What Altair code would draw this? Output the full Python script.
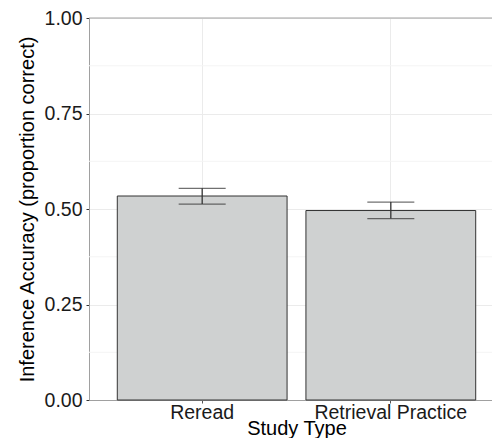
import altair as alt
import pandas as pd

study = ["Reread", "Retrieval Practice"]
mean_acc = [0.534, 0.496]
ci_low = [0.513, 0.475]
ci_high = [0.554, 0.518]
y_ticks = [0.0, 0.25, 0.5, 0.75, 1.0]
y_minor = [0.125, 0.375, 0.625, 0.875]
y_top = [1.0]

df = pd.DataFrame({"study": study, "mean": mean_acc, "lo": ci_low, "hi": ci_high})
minor_df = pd.DataFrame({"v": y_minor})
top_df = pd.DataFrame({"v": y_top})

FONT = "Liberation Sans"
BORDER = "#a0a0a0"

x_scale = alt.Scale(domain=study, range=[0, 415], paddingInner=0.1, paddingOuter=0.15)
y_scale = alt.Scale(domain=[0, 1], nice=False, zero=True)

x_enc = alt.X(
    "study:N",
    scale=x_scale,
    sort=study,
    title="Study Type",
    axis=alt.Axis(
        labelAngle=0,
        grid=True,
        bandPosition=0.5,
        gridColor="#ebebeb",
        gridWidth=1,
        domainColor=BORDER,
        domainWidth=1,
        tickColor="#555555",
        tickSize=3,
        labelPadding=0,
        labelFont=FONT,
        labelFontSize=19.5,
        labelColor="#1a1a1a",
        titleFont=FONT,
        titleFontSize=20,
        titleFontWeight="normal",
        titleColor="#000000",
        titleBaseline="alphabetic",
        titleY=34,
    ),
)

minor = alt.Chart(minor_df).mark_rule(color="#f4f4f4", strokeWidth=1).encode(
    y=alt.Y("v:Q", scale=y_scale)
)

top_border = alt.Chart(top_df).mark_rule(color=BORDER, strokeWidth=1).encode(
    y=alt.Y("v:Q", scale=y_scale)
)

bars = alt.Chart(df).mark_bar(fill="#cfd1d1", stroke="#333333", strokeWidth=1).encode(
    x=x_enc,
    y=alt.Y(
        "mean:Q",
        scale=y_scale,
        title="Inference Accuracy (proportion correct)",
        axis=alt.Axis(
            values=y_ticks,
            format=".2f",
            grid=True,
            gridColor="#ebebeb",
            gridWidth=1,
            domainColor=BORDER,
            tickColor="#333333",
            tickSize=3,
            labelPadding=4,
            labelFont=FONT,
            labelFontSize=19.5,
            labelColor="#1a1a1a",
            titleFont=FONT,
            titleFontSize=20,
            titleFontWeight="normal",
            titleColor="#000000",
            titleBaseline="alphabetic",
            titleX=-56,
        ),
    ),
)

err = alt.Chart(df).mark_rule(color="#333333", strokeWidth=1.3).encode(
    x=alt.X("study:N", scale=x_scale, sort=study),
    y=alt.Y("lo:Q", scale=y_scale),
    y2="hi:Q",
)

cap_lo = alt.Chart(df).mark_tick(color="#333333", size=47, thickness=1.3, orient="horizontal").encode(
    x=alt.X("study:N", scale=x_scale, sort=study),
    y=alt.Y("lo:Q", scale=y_scale),
)
cap_hi = alt.Chart(df).mark_tick(color="#333333", size=47, thickness=1.3, orient="horizontal").encode(
    x=alt.X("study:N", scale=x_scale, sort=study),
    y=alt.Y("hi:Q", scale=y_scale),
)

chart = (
    alt.layer(minor, top_border, bars, err, cap_lo, cap_hi)
    .properties(
        width=403,
        height=382,
        autosize=alt.AutoSizeParams(type="none"),
        padding={"left": 81, "top": 10, "right": 0, "bottom": 38},
    )
    .configure_view(stroke=None)
    .configure(background="white")
)

chart.save("out.html", embed_options={"renderer": "svg", "actions": False})
